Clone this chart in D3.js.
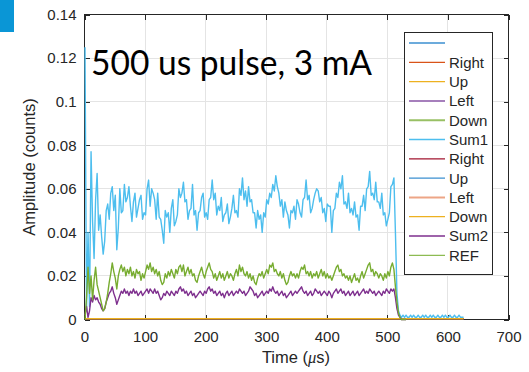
<!DOCTYPE html>
<html>
<head>
<meta charset="utf-8">
<script src="https://cdn.jsdelivr.net/npm/d3@7"></script>
<style>
  body { margin: 0; background: #fff; }
  svg text { font-family: "Liberation Sans", Arial, sans-serif; fill: #262626; }
  .grid line { stroke: #e4e4e4; stroke-width: 1; shape-rendering: crispEdges; }
  .axis line { stroke: #262626; shape-rendering: crispEdges; }
  .axis text { font-size: 15px; }
  .trace { fill: none; stroke-width: 1.4; stroke-linejoin: round; }
</style>
</head>
<body>
<svg id="chart" width="529" height="372"></svg>
<script>
const xTicks = [0, 100, 200, 300, 400, 500, 600, 700];
const yTicks = [0, 0.02, 0.04, 0.06, 0.08, 0.1, 0.12, 0.14];
const legendNames = ['', 'Right', 'Up', 'Left', 'Down', 'Sum1', 'Right', 'Up', 'Left', 'Down', 'Sum2', 'REF'];
const legendColors = ['#3b8fd0', '#d95319', '#edb120', '#a67fbc', '#98c064', '#4dbeee',
                      '#a2142f', '#3b8fd0', '#eda586', '#edb120', '#7e2f8e', '#8dbb52'];

const dt = 2.5; // sample step, us

// Sum1 (light blue)
const sum1 = [
  0.125,0.004,0.040,0.006,0.077,0.045,0.028,0.055,0.067,0.041,0.048,0.038,0.030,0.036,0.050,0.053,0.046,0.058,0.061,0.050,
  0.057,0.032,0.042,0.060,0.049,0.050,0.062,0.054,0.056,0.061,0.052,0.045,0.054,0.058,0.047,0.051,0.055,0.057,0.046,0.049,
  0.048,0.060,0.064,0.052,0.060,0.058,0.055,0.046,0.058,0.047,0.046,0.041,0.035,0.050,0.047,0.049,0.040,0.051,0.055,0.043,
  0.045,0.048,0.060,0.056,0.058,0.063,0.054,0.055,0.046,0.050,0.051,0.062,0.048,0.050,0.041,0.049,0.050,0.056,0.058,0.047,
  0.049,0.046,0.055,0.056,0.064,0.055,0.058,0.048,0.052,0.050,0.056,0.045,0.048,0.049,0.053,0.044,0.047,0.051,0.057,0.049,
  0.050,0.047,0.060,0.057,0.065,0.055,0.059,0.052,0.061,0.054,0.055,0.049,0.049,0.042,0.050,0.046,0.048,0.040,0.049,0.047,
  0.055,0.053,0.058,0.056,0.062,0.059,0.066,0.061,0.058,0.052,0.055,0.047,0.054,0.050,0.048,0.042,0.050,0.049,0.052,0.046,
  0.055,0.053,0.049,0.047,0.055,0.056,0.064,0.055,0.057,0.049,0.051,0.055,0.058,0.060,0.059,0.054,0.056,0.049,0.051,0.045,
  0.053,0.052,0.052,0.040,0.050,0.051,0.058,0.056,0.063,0.060,0.066,0.053,0.054,0.051,0.058,0.049,0.051,0.048,0.054,0.047,
  0.048,0.041,0.052,0.052,0.057,0.050,0.060,0.061,0.068,0.057,0.058,0.055,0.063,0.054,0.054,0.051,0.058,0.048,0.049,0.043,
  0.046,0.049,0.061,0.062,0.065,0.040,0.012,0.004,0.002,0.001,0.002,0.001,0.002,0.001,0.001,0.002,0.001,0.002,0.001,0.001,
  0.002,0.001,0.001,0.002,0.001,0.002,0.001,0.001,0.002,0.001,0.002,0.001,0.001,0.002,0.001,0.001,0.002,0.001,0.002,0.001,
  0.001,0.002,0.001,0.001,0.002,0.001,0.001,0.002,0.001,0.001,0.001
];

// Sum2 (purple)
const sum2 = [
  0.002,0.006,0.001,0.004,0.010,0.008,0.011,0.009,0.010,0.008,0.007,0.005,0.004,0.005,0.008,0.010,0.012,0.013,0.015,0.012,
  0.010,0.007,0.009,0.011,0.013,0.012,0.014,0.012,0.013,0.011,0.013,0.012,0.014,0.012,0.013,0.011,0.012,0.013,0.011,0.012,
  0.013,0.014,0.012,0.014,0.013,0.012,0.014,0.012,0.013,0.011,0.009,0.010,0.012,0.011,0.013,0.012,0.011,0.013,0.012,0.011,
  0.013,0.012,0.014,0.015,0.013,0.014,0.012,0.013,0.011,0.012,0.013,0.011,0.012,0.010,0.011,0.012,0.013,0.012,0.011,0.013,
  0.012,0.014,0.015,0.013,0.014,0.012,0.013,0.011,0.012,0.013,0.011,0.012,0.010,0.012,0.013,0.011,0.012,0.013,0.011,0.012,
  0.013,0.012,0.014,0.013,0.012,0.013,0.011,0.012,0.013,0.015,0.014,0.013,0.011,0.012,0.010,0.011,0.012,0.013,0.011,0.012,
  0.013,0.012,0.014,0.013,0.015,0.013,0.012,0.013,0.011,0.012,0.013,0.011,0.012,0.010,0.011,0.012,0.013,0.011,0.012,0.013,
  0.012,0.013,0.014,0.015,0.013,0.012,0.013,0.011,0.012,0.013,0.011,0.012,0.014,0.013,0.012,0.013,0.011,0.012,0.013,0.012,
  0.011,0.013,0.012,0.010,0.012,0.013,0.014,0.012,0.013,0.014,0.012,0.013,0.011,0.012,0.013,0.011,0.012,0.013,0.011,0.012,
  0.013,0.011,0.012,0.013,0.014,0.012,0.013,0.012,0.014,0.013,0.012,0.013,0.011,0.012,0.013,0.012,0.011,0.013,0.012,0.014,
  0.013,0.012,0.014,0.013,0.014,0.010,0.005,0.002,0.001,0.000,0.000,0.000,0.000
];

// REF (green)
const ref = [
  0.000,0.010,0.024,0.012,0.020,0.009,0.018,0.024,0.016,0.013,0.010,0.007,0.004,0.005,0.008,0.012,0.017,0.021,0.026,0.022,
  0.019,0.014,0.020,0.023,0.025,0.022,0.024,0.020,0.023,0.021,0.024,0.020,0.022,0.019,0.023,0.021,0.022,0.018,0.021,0.019,
  0.022,0.025,0.023,0.026,0.022,0.024,0.021,0.023,0.020,0.022,0.018,0.016,0.017,0.021,0.019,0.022,0.020,0.023,0.021,0.019,
  0.023,0.021,0.024,0.025,0.022,0.025,0.020,0.022,0.024,0.021,0.023,0.020,0.021,0.018,0.017,0.020,0.022,0.024,0.021,0.019,
  0.022,0.024,0.026,0.023,0.022,0.019,0.021,0.018,0.020,0.022,0.019,0.021,0.018,0.020,0.022,0.019,0.021,0.020,0.018,0.021,
  0.023,0.020,0.025,0.022,0.024,0.021,0.020,0.022,0.019,0.021,0.018,0.020,0.017,0.016,0.019,0.021,0.020,0.022,0.019,0.021,
  0.023,0.021,0.025,0.024,0.026,0.022,0.023,0.021,0.020,0.022,0.019,0.021,0.018,0.016,0.017,0.020,0.022,0.020,0.021,0.019,
  0.021,0.019,0.022,0.024,0.023,0.025,0.021,0.022,0.020,0.022,0.019,0.021,0.020,0.022,0.019,0.021,0.023,0.020,0.022,0.019,
  0.021,0.019,0.020,0.018,0.020,0.022,0.024,0.025,0.022,0.023,0.020,0.021,0.019,0.020,0.018,0.020,0.017,0.019,0.021,0.018,
  0.019,0.017,0.020,0.022,0.019,0.021,0.023,0.025,0.026,0.022,0.023,0.020,0.022,0.021,0.019,0.021,0.020,0.018,0.021,0.019,
  0.022,0.020,0.024,0.026,0.023,0.015,0.008,0.003,0.001,0.000,0.000,0.000,0.000
];

// channels that stay at the baseline
const flatTime = [0, 625];
const flatLevel = [0.0004, 0.0004];

const sampled = v => v.map((d, i) => [i * dt, d]);
const flat = () => flatTime.map((t, i) => [t, flatLevel[i]]);
const traces = [flat(), flat(), flat(), flat(), flat(), sampled(sum1),
                flat(), flat(), flat(), flat(), sampled(sum2), sampled(ref)];
const traceColors = ['#0072bd', '#d95319', '#edb120', '#7e2f8e', '#77ac30', '#4dbeee',
                     '#a2142f', '#0072bd', '#d95319', '#edb120', '#7e2f8e', '#77ac30'];

const svg = d3.select('#chart');

// corner badge
svg.append('rect').attr('x', 0).attr('y', 0).attr('width', 14).attr('height', 32).attr('fill', '#0a96d6');

const x = d3.scaleLinear().domain([0, 700]).range([84.5, 508.5]);
const y = d3.scaleLinear().domain([0, 0.14]).range([319.5, 14.5]);

// grid
const grid = svg.append('g').attr('class', 'grid');
grid.selectAll('.gx').data(xTicks.slice(1, -1)).enter().append('line')
  .attr('x1', d => x(d)).attr('x2', d => x(d)).attr('y1', y(0)).attr('y2', y(0.14));
grid.selectAll('.gy').data(yTicks.slice(1, -1)).enter().append('line')
  .attr('x1', x(0)).attr('x2', x(700)).attr('y1', d => y(d)).attr('y2', d => y(d));

// axes, MATLAB style: inward ticks on all four sides
const fmt = d => d === 0 ? '0' : d3.format('~g')(d);
svg.append('g').attr('class', 'axis').attr('transform', `translate(0,${y(0)})`)
  .call(d3.axisBottom(x).tickValues(xTicks).tickSize(-5).tickPadding(12).tickFormat(fmt));
svg.append('g').attr('class', 'axis').attr('transform', `translate(${x(0)},0)`)
  .call(d3.axisLeft(y).tickValues(yTicks).tickSize(-5).tickPadding(8).tickFormat(fmt));
svg.append('g').attr('class', 'axis').attr('transform', `translate(0,${y(0.14)})`)
  .call(d3.axisTop(x).tickValues(xTicks).tickSize(-5).tickFormat(''));
svg.append('g').attr('class', 'axis').attr('transform', `translate(${x(700)},0)`)
  .call(d3.axisRight(y).tickValues(yTicks).tickSize(-5).tickFormat(''));
svg.selectAll('.axis .domain').remove();
svg.selectAll('.axis').attr('font-family', null).attr('font-size', null);

svg.append('rect')
  .attr('x', x(0)).attr('y', y(0.14))
  .attr('width', x(700) - x(0)).attr('height', y(0) - y(0.14))
  .attr('fill', 'none').attr('stroke', '#262626').attr('stroke-width', 1)
  .attr('shape-rendering', 'crispEdges');

// traces on top of the box
const line = d3.line().x(d => x(d[0]) + 0.5).y(d => y(d[1]));
svg.append('g').selectAll('path').data(traces).enter().append('path')
  .attr('class', 'trace')
  .attr('stroke', (d, i) => traceColors[i])
  .attr('stroke-width', (d, i) => i === 5 ? 1.6 : null)
  .attr('d', line);

// axis titles
const xt = svg.append('text').attr('x', 296).attr('y', 363).attr('text-anchor', 'middle')
  .style('font-size', '16.5px');
xt.append('tspan').text('Time (');
xt.append('tspan').style('font-style', 'italic').style('font-family', '"Liberation Serif", serif').text('μ');
xt.append('tspan').text('s)');

svg.append('text').attr('transform', 'translate(35,167) rotate(-90)').attr('text-anchor', 'middle')
  .style('font-size', '16.5px').text('Amplitude (counts)');

// annotation
svg.append('text').attr('x', 91).attr('y', 75)
  .attr('textLength', 281).attr('lengthAdjust', 'spacingAndGlyphs')
  .style('font-family', 'Lato, "Open Sans", sans-serif').style('font-size', '35px').style('fill', '#000')
  .text('500 us pulse, 3 mA');

// legend
const lg = svg.append('g');
lg.append('rect').attr('x', 404.5).attr('y', 32.5).attr('width', 88).attr('height', 242)
  .attr('fill', '#fff').attr('stroke', '#262626').attr('shape-rendering', 'crispEdges');
const items = lg.selectAll('.item').data(legendNames).enter().append('g')
  .attr('transform', (d, i) => `translate(0,${43 + i * 19.3})`);
items.append('line').attr('x1', 409).attr('x2', 445)
  .attr('stroke', (d, i) => legendColors[i])
  .attr('stroke-width', (d, i) => (i === 3 || i === 4 || i === 8) ? 2 : 1.3);
items.append('text').attr('x', 449).attr('dy', '0.36em').style('font-size', '15px').text(d => d);
</script>
</body>
</html>
